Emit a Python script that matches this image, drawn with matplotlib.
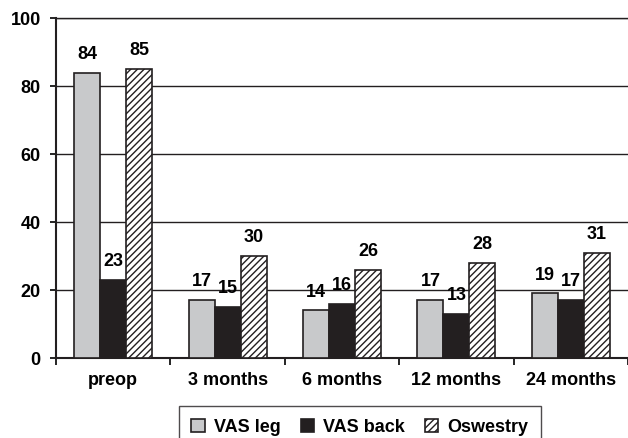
import numpy as np
import matplotlib
matplotlib.use("Agg")
from matplotlib import pyplot as plt

plt.rcParams['font.family'] = ['Liberation Sans', 'DejaVu Sans']
plt.rcParams['font.weight'] = 'bold'
plt.rcParams['hatch.linewidth'] = 1.0

periodos = ["preop", "3 months", "6 months", "12 months", "24 months"]
vas_pierna = [84, 17, 14, 17, 19]
vas_espalda = [23, 15, 16, 13, 17]
oswestry = [85, 30, 26, 28, 31]

series = [
    ("VAS leg", vas_pierna, dict(facecolor="#c8c9cb", hatch=None)),
    ("VAS back", vas_espalda, dict(facecolor="#231f20", hatch=None)),
    ("Oswestry", oswestry, dict(facecolor="white", hatch="/////")),
]

tam = 13

fig = plt.figure(figsize=(6.28, 4.38), dpi=100)
ax = fig.add_axes([0.0892, 0.1826, 0.9108, 0.776])

x = np.arange(len(periodos))
ancho = 0.227
for i, (nombre, valores, estilo) in enumerate(series):
    pos = x + (i - 1) * ancho
    barras = ax.bar(pos, valores, ancho, label=nombre, edgecolor="#231f20",
                    linewidth=1.2, zorder=3, **estilo)
    for b, v in zip(barras, valores):
        ax.annotate(f"{v}", (b.get_x() + b.get_width() / 2, v),
                    xytext=(0, 10), textcoords="offset points",
                    ha="center", va="baseline", fontsize=tam, fontweight="bold")

ax.set_xlim(-0.5, 4.5)
ax.set_ylim(0, 100)
ax.set_yticks([0, 20, 40, 60, 80, 100])
ax.yaxis.grid(True, color="#231f20", linewidth=1.0, zorder=0)
ax.set_axisbelow(True)

ax.set_xticks(x)
ax.set_xticklabels(periodos, fontsize=tam, fontweight="bold")
ax.set_xticks(np.arange(-0.5, 5.0, 1.0), minor=True)
ax.tick_params(axis="x", which="major", length=0, pad=10)
ax.tick_params(axis="x", which="minor", length=5, width=1.2, direction="out")
ax.tick_params(axis="y", length=4, width=1.2, pad=7, labelsize=tam)
for t in ax.get_yticklabels():
    t.set_fontweight("bold")

ax.spines["right"].set_visible(False)
ax.spines["top"].set_linewidth(1.0)
ax.spines["left"].set_linewidth(1.5)
ax.spines["bottom"].set_linewidth(1.5)
for lado in ("left", "bottom", "top"):
    ax.spines[lado].set_color("#231f20")

# leyenda abajo, medio cortada por el borde de la figura
ley = fig.legend(loc="upper center", bbox_to_anchor=(0.573, 0.073), ncol=3,
                 frameon=True, fancybox=False, fontsize=tam,
                 handlelength=0.75, handleheight=0.75, handletextpad=0.5,
                 columnspacing=1.1, borderpad=0.7, borderaxespad=0)
ley.get_frame().set_edgecolor("#231f20")
ley.get_frame().set_linewidth(1.0)
for t in ley.get_texts():
    t.set_fontweight("bold")

plt.savefig("out.png", dpi=100)
plt.close()
